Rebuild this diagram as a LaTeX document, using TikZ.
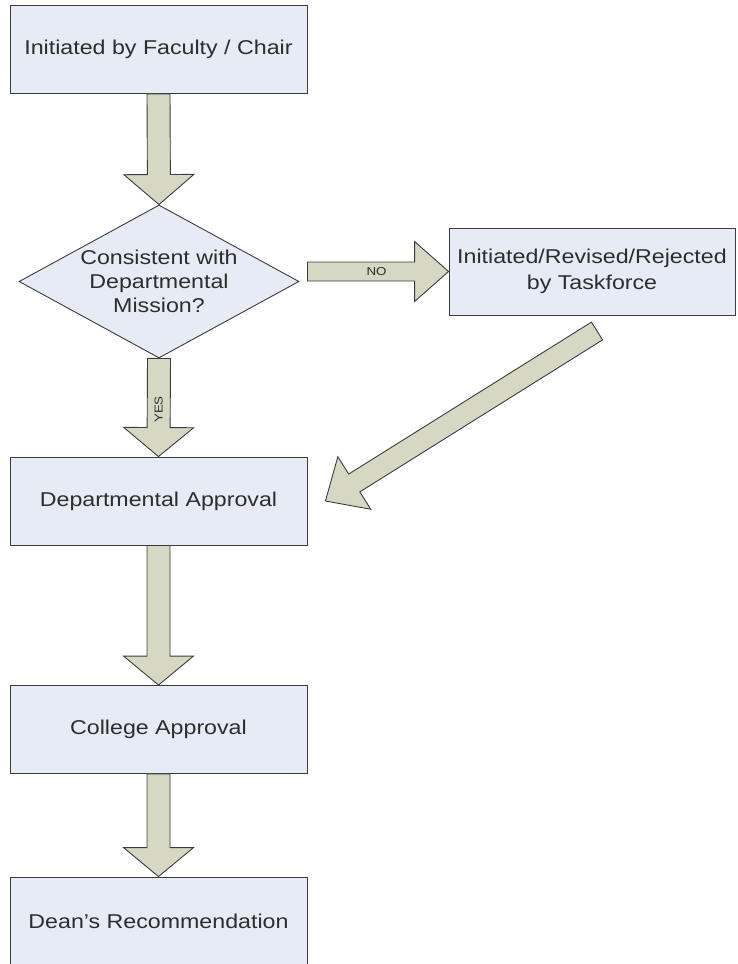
\documentclass[tikz,border=0pt]{standalone}
\usepackage{fontspec}
\setmainfont{Liberation Sans}[FakeStretch=1.16]
\usetikzlibrary{shapes.geometric,calc}

\definecolor{boxfill}{RGB}{230,235,246}
\definecolor{arrowfill}{RGB}{214,216,196}
\definecolor{edge}{RGB}{60,60,60}
\definecolor{ink}{RGB}{45,45,45}

% block arrow: tail, tip, half shaft, half head, head length
\newcommand{\blockarrow}[5]{%
  \coordinate (ba) at ($(#2)!#5!(#1)$);
  \draw[fatarrow] ($(#1)!#3!90:(#2)$) -- ($(ba)!#3!-90:(#1)$)
    -- ($(ba)!#4!-90:(#1)$) -- (#2) -- ($(ba)!#4!90:(#1)$)
    -- ($(ba)!#3!90:(#1)$) -- ($(#1)!#3!-90:(#2)$) -- cycle;
}

\begin{document}
\begin{tikzpicture}[x=1pt,y=-1pt,
    stepbox/.style={draw=edge, line width=0.9pt, fill=boxfill, text=ink,
      minimum width=297pt, minimum height=88pt, inner sep=0pt,
      font=\fontsize{20}{24}\selectfont, align=center},
    decision/.style={stepbox, shape=diamond, aspect=1.83,
      minimum width=280pt, minimum height=153pt},
    fatarrow/.style={draw=edge, line width=0.9pt, fill=arrowfill, line join=miter},
    flowlabel/.style={text=ink, inner sep=0pt, font=\fontsize{11.5}{12}\selectfont}]
  \useasboundingbox (0,0) rectangle (737,964);

  \node[stepbox] (init) at (158.5,49.5) {Initiated by Faculty / Chair};
  \node[decision] (check) at (159,281.5) {Consistent with\\Departmental\\Mission?};
  \node[stepbox, minimum width=286pt, minimum height=87pt,
    font=\fontsize{20}{26.5}\selectfont] (task) at (592,271.5)
    {Initiated/Revised/Rejected\\by Taskforce};
  \node[stepbox] (dept) at (158.5,501) {Departmental Approval};
  \node[stepbox] (college) at (158.5,729.5) {College Approval};
  \node[stepbox] (dean) at (158.5,921) {Dean's Recommendation};

  \coordinate (no-tail) at ($(check.east |- task.west)+(8,0)$);
  \coordinate (back-tail) at (597,331);
  \coordinate (back-tip) at ($(dept.east)+(18,0)$);

  \blockarrow{init.south}{check.north}{11.5pt}{35pt}{30pt}
  \blockarrow{check.south}{dept.north}{11.5pt}{35pt}{29pt}
  \blockarrow{no-tail}{task.west}{9.5pt}{30pt}{34pt}
  \blockarrow{back-tail}{back-tip}{10.5pt}{31pt}{34pt}
  \blockarrow{dept.south}{college.north}{11.5pt}{35pt}{29pt}
  \blockarrow{college.south}{dean.north}{11.5pt}{35pt}{29pt}

  \node[flowlabel] (no) at ($(no-tail)!0.49!(task.west)$) {NO};
  \node[flowlabel, rotate=90] (yes) at ($(check.south)!0.52!(dept.north)$) {YES};
\end{tikzpicture}
\end{document}
